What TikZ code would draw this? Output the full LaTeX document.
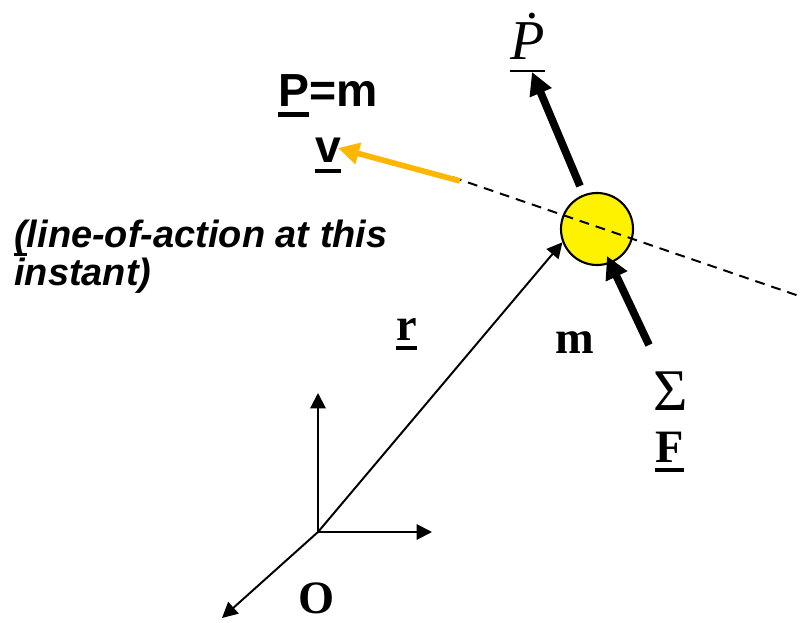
\documentclass[tikz,border=0pt]{standalone}
\usepackage{fontspec}
\setmainfont{Liberation Serif}
\newfontfamily\arialfont{Liberation Sans}
\usetikzlibrary{arrows.meta,positioning}
\definecolor{amber}{RGB}{255,182,0}
% underline bar: optional thickness, text
\newcommand{\ulbar}[2][0.1em]{\setbox0=\hbox{#2}\rlap{\rule[-0.22em]{\wd0}{#1}}\box0}

\begin{document}
\begin{tikzpicture}[x=0.025cm,y=-0.025cm, every node/.style={inner sep=0pt},
  thinarrow/.style={-{Triangle[length=11pt,width=11pt]},line width=1.4pt},
  forcearrow/.style={-{Triangle[length=16pt,width=16pt]},line width=5.5pt},
  serifbig/.style={font=\fontsize{33}{40}\selectfont\bfseries}]
  \useasboundingbox (0,0) rectangle (802,623);

  % frame at the origin
  \coordinate (O) at (318,532);
  \coordinate (yaxis) at (318,393);
  \coordinate (xaxis) at (432,532);
  \coordinate (zaxis) at (222,618);
  \draw[thinarrow] (O)--(yaxis);
  \draw[thinarrow] (O)--(xaxis);
  \draw[thinarrow] (O)--(zaxis);

  % the particle
  \node[circle,draw,line width=1.5pt,fill=yellow,minimum size=1.8cm] (mass) at (597,229) {};
  \draw[thinarrow] (O)--(mass.201);

  % line of action and momentum
  \coordinate (loa) at (452,177);
  \coordinate (loaend) at (802,297);
  \draw[line width=1.4pt,dash pattern=on 7pt off 5pt] (loa)--(loaend);
  \coordinate (vtail) at (460,181);
  \coordinate (vtip) at (338,148);
  \draw[-{Triangle[length=15pt,width=15pt]},line width=4pt,amber] (vtail)--(vtip);

  % forces
  \coordinate (pdtail) at (580,186);
  \coordinate (pdtip) at (532,72);
  \coordinate (ftail) at (649,345);
  \coordinate (ftip) at (607,256);
  \draw[forcearrow] (pdtail)--(pdtip);
  \draw[forcearrow] (ftail)--(ftip);

  % labels
  \node[font=\fontsize{33}{40}\selectfont\arialfont\bfseries,align=center,anchor=base] (pmv) at (328,163)
    {\ulbar{P}=m\\\ulbar{v}};
  \node[font=\fontsize{27}{23}\selectfont\arialfont\bfseries\itshape,align=left,anchor=north west] (loalabel) at (14,220)
    {\ulbar[0.08em]{(}line-of-action at this\\instant)};
  \node[font=\fontsize{40}{48}\selectfont\itshape,anchor=base west] (pdot) at (510,60)
    {\ulbar[1.5pt]{\.P}};
  \node[serifbig,anchor=base west] (mlabel) at (555,353) {m};
  \node[serifbig,anchor=base west] (rlabel) at (396,340) {\ulbar{r}};
  \node[font=\fontsize{42}{50}\selectfont,anchor=base west] (sigma) at (653,410) {Σ};
  \node[serifbig,anchor=base west] (flabel) at (655,462) {\ulbar{F}};
  \node[serifbig,anchor=base west] (olabel) at (298,613) {O};
\end{tikzpicture}
\end{document}
